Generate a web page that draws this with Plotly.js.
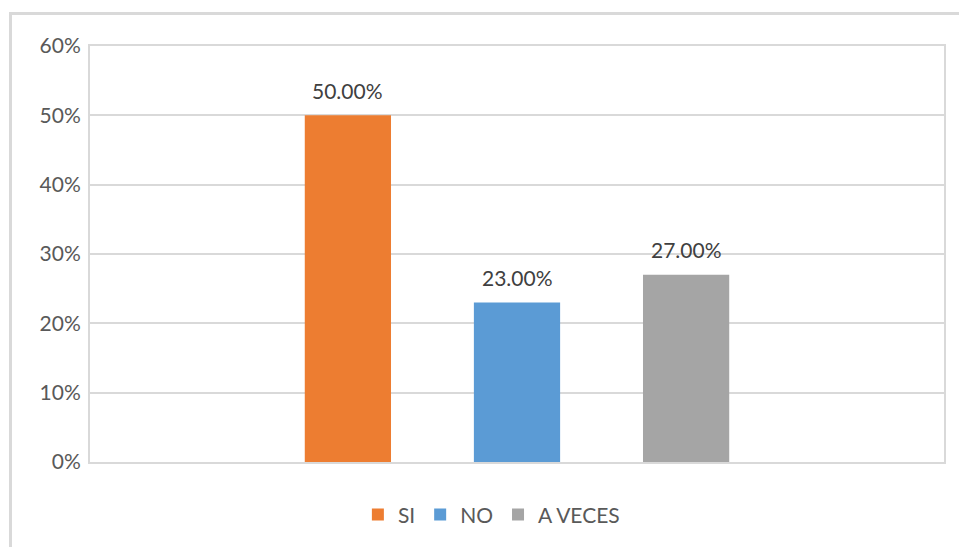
<!DOCTYPE html>
<html>
<head>
<meta charset="utf-8">
<script src="https://cdn.plot.ly/plotly-3.0.1.min.js"></script>
<style>
  html, body { margin: 0; padding: 0; background: #fff; overflow: hidden; }
  #wrap { position: relative; width: 959px; height: 547px; }
  #frame { position: absolute; left: 9px; top: 12px; width: 1000px; height: 600px;
           border-left: 3px solid #d9d9d9; border-top: 3px solid #d9d9d9; pointer-events: none; }
  #chart { position: absolute; left: 0; top: 0; width: 959px; height: 547px; }
</style>
</head>
<body>
<div id="wrap">
  <div id="chart"></div>
  <div id="frame"></div>
</div>
<script>
const categories = ['SI', 'NO', 'A VECES'];
const values = [0.50, 0.23, 0.27];
const colors = ['#ED7D31', '#5B9BD5', '#A5A5A5'];
const yTickVals = [0, 0.1, 0.2, 0.3, 0.4, 0.5, 0.6];

const FONT = 'Lato, "Open Sans", sans-serif';

const traces = categories.map((c, i) => ({
  type: 'bar',
  name: c,
  x: [c],
  y: [values[i]],
  width: 0.51,
  marker: { color: colors[i] },
  hoverinfo: 'skip'
}));

const annotations = categories.map((c, i) => ({
  x: c, y: values[i], xref: 'x', yref: 'y',
  text: (values[i] * 100).toFixed(2) + '%',
  showarrow: false, yanchor: 'middle', yshift: 25,
  font: { family: FONT, size: 21, color: '#404040' }
}));

const layout = {
  width: 959, height: 547,
  margin: { l: 90, r: 15, t: 46, b: 83 },
  paper_bgcolor: '#ffffff', plot_bgcolor: '#ffffff',
  barmode: 'overlay',
  showlegend: true,
  legend: {
    orientation: 'h', x: 0.47, xanchor: 'center', y: -0.127, yanchor: 'middle',
    font: { family: FONT, size: 21, color: '#595959' },
    itemwidth: 30, tracegroupgap: 0
  },
  xaxis: {
    type: 'category',
    categoryorder: 'array', categoryarray: categories,
    range: [-1.525, 3.525],
    showticklabels: false, ticks: '',
    showgrid: false, zeroline: false,
    showline: true, mirror: true, linecolor: '#d9d9d9', linewidth: 2
  },
  yaxis: {
    range: [0, 0.6],
    tickvals: yTickVals,
    tickformat: '.0%',
    ticks: '', ticklabelstandoff: 3,
    tickfont: { family: FONT, size: 21, color: '#595959' },
    showgrid: true, gridcolor: '#d9d9d9', gridwidth: 2,
    zeroline: false,
    showline: true, mirror: true, linecolor: '#d9d9d9', linewidth: 2
  },
  annotations: annotations
};

Plotly.newPlot('chart', traces, layout, { displayModeBar: false, staticPlot: true });
</script>
</body>
</html>
